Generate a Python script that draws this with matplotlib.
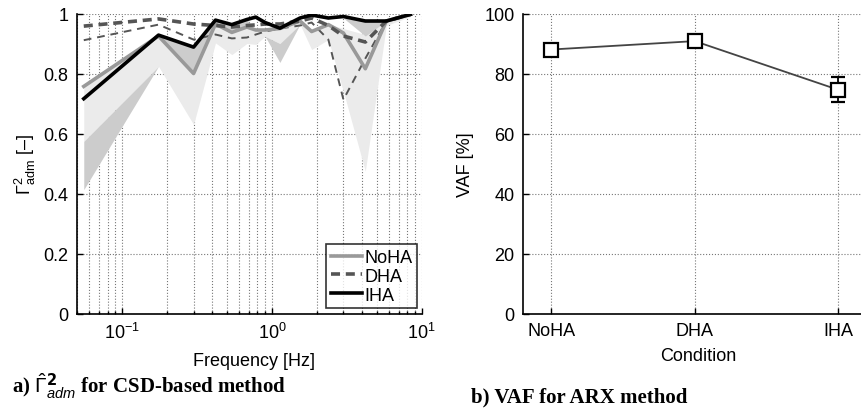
import numpy as np
import matplotlib.pyplot as plt

plt.rcParams['font.family'] = ['Liberation Sans', 'DejaVu Sans']
plt.rcParams['mathtext.fontset'] = 'custom'
plt.rcParams['mathtext.rm'] = 'Liberation Sans'
plt.rcParams['mathtext.it'] = 'Liberation Sans:italic'

# --- panel a: coherence vs frequency ---
freq = [0.0555, 0.175, 0.30, 0.42, 0.54, 0.68, 0.78, 0.90, 1.13, 1.54, 1.84, 2.38, 3.0, 4.2, 5.8, 8.4]
noha = [0.757, 0.925, 0.80, 0.965, 0.937, 0.955, 0.945, 0.945, 0.95, 0.975, 0.94, 0.963, 0.935, 0.816, 0.975, 0.997]
dha = [0.958, 0.982, 0.965, 0.96, 0.955, 0.96, 0.962, 0.965, 0.965, 0.975, 0.985, 0.96, 0.925, 0.905, 0.975, 0.997]
iha = [0.716, 0.928, 0.888, 0.978, 0.963, 0.98, 0.988, 0.97, 0.951, 0.985, 0.995, 0.985, 0.99, 0.975, 0.975, 0.997]
dha_lo = [0.911, 0.963, 0.913, 0.93, 0.917, 0.92, 0.93, 0.94, 0.95, 0.96, 0.97, 0.913, 0.713, 0.85, 0.975, 0.997]

light_lo = [0.574, 0.824, 0.63, 0.902, 0.863, 0.90, 0.897, 0.924, 0.90, 0.964, 0.88, 0.913, 0.74, 0.474, 0.96, 0.99]
light_hi = [0.757, 0.925, 0.80, 0.965, 0.937, 0.955, 0.945, 0.945, 0.95, 0.975, 0.945, 0.965, 0.95, 0.93, 0.975, 0.997]
dark_lo = [0.757, 0.925, 0.80, 0.965, 0.937, 0.955, 0.945, 0.924, 0.837, 0.964, 0.945, 0.965, 0.985, 0.925, 0.975, 0.997]
dark_hi = [0.757, 0.925, 0.888, 0.978, 0.963, 0.98, 0.945, 0.924, 0.90, 0.964, 0.945, 0.965, 0.985, 0.975, 0.975, 0.997]
wedge_freq = [0.0555, 0.175]
wedge_lo = [0.413, 0.824]
wedge_hi = [0.574, 0.824]

# --- panel b: VAF ---
conditions = ['NoHA', 'DHA', 'IHA']
vaf = [88.0, 90.8, 74.6]
vaf_err = [1.5, 0.8, 4.2]

fig = plt.figure(figsize=(8.62, 4.10), dpi=100)

ax1 = fig.add_axes([0.0893, 0.2329, 0.400, 0.7317])
ax1.fill_between(freq, light_lo, light_hi, color='#ebebeb', lw=0)
ax1.fill_between(wedge_freq, wedge_lo, wedge_hi, color='#cccccc', lw=0)
ax1.fill_between(freq, dark_lo, dark_hi, color='#cccccc', lw=0)
ax1.plot(freq, dha_lo, color='#555555', lw=1.4, dashes=(4, 3))
ax1.plot(freq, noha, color='#999999', lw=2.6, label='NoHA')
ax1.plot(freq, dha, color='#555555', lw=2.6, dashes=(2.5, 1.6), label='DHA')
ax1.plot(freq, iha, color='black', lw=2.6, label='IHA')
ax1.set_xscale('log')
ax1.set_xlim(0.05, 10)
ax1.set_ylim(0, 1)
ax1.set_yticks([0, 0.2, 0.4, 0.6, 0.8, 1])
ax1.set_yticklabels(['0', '0.2', '0.4', '0.6', '0.8', '1'])
ax1.grid(True, which='both', axis='x', ls=':', lw=0.8, color='#777777')
ax1.grid(True, which='major', axis='y', ls=':', lw=0.8, color='#777777')
ax1.set_xlabel('Frequency [Hz]', fontsize=13)
ax1.xaxis.set_label_coords(0.513, -0.128)
ax1.set_ylabel(r'$\Gamma^2_{\rm adm}$ [–]', fontsize=13)
ax1.yaxis.set_label_coords(-0.113, 0.5)
leg = ax1.legend(loc='lower right', bbox_to_anchor=(0.986, 0.018), fontsize=13,
                 frameon=True, fancybox=False, edgecolor='black', handlelength=1.7,
                 handletextpad=0.15, borderpad=0.25, labelspacing=0.1, borderaxespad=0)
leg.get_frame().set_linewidth(1.2)

ax2 = fig.add_axes([0.6064, 0.2329, 0.399, 0.7317])
ax2.errorbar([1, 2, 3], vaf, yerr=vaf_err, color='#444444', lw=1.3, ecolor='black',
             elinewidth=1.3, capsize=5, capthick=1.3, marker='s', ms=10,
             mfc='white', mec='black', mew=1.6, zorder=3)
ax2.set_xlim(0.8, 3.2)
ax2.set_ylim(0, 100)
ax2.set_xticks([1, 2, 3])
ax2.set_xticklabels(conditions)
ax2.set_yticks([0, 20, 40, 60, 80, 100])
ax2.grid(True, ls=':', lw=0.8, color='#777777')
ax2.set_xlabel('Condition', fontsize=13)
ax2.xaxis.set_label_coords(0.511, -0.112)
ax2.set_ylabel('VAF [%]', fontsize=13)
ax2.yaxis.set_label_coords(-0.1416, 0.5)

for ax in (ax1, ax2):
    ax.spines['top'].set_visible(False)
    ax.spines['right'].set_visible(False)
    ax.spines['left'].set_linewidth(1.2)
    ax.spines['bottom'].set_linewidth(1.2)
    ax.tick_params(which='both', direction='in', labelsize=13, width=1.0)
    ax.tick_params(which='major', length=4, pad=6)
    ax.tick_params(which='minor', length=2)
    ax.set_axisbelow(True)

fig.text(0.0136, 0.0415, r'a) $\hat{\Gamma}^{\mathbf{2}}_{adm}$ for CSD-based method',
         fontsize=15, fontweight='bold', family='Liberation Serif', va='baseline')
fig.text(0.5464, 0.0195, 'b) VAF for ARX method', fontsize=15, fontweight='bold',
         family='Liberation Serif', va='baseline')

fig.savefig('out.png', dpi=100)
